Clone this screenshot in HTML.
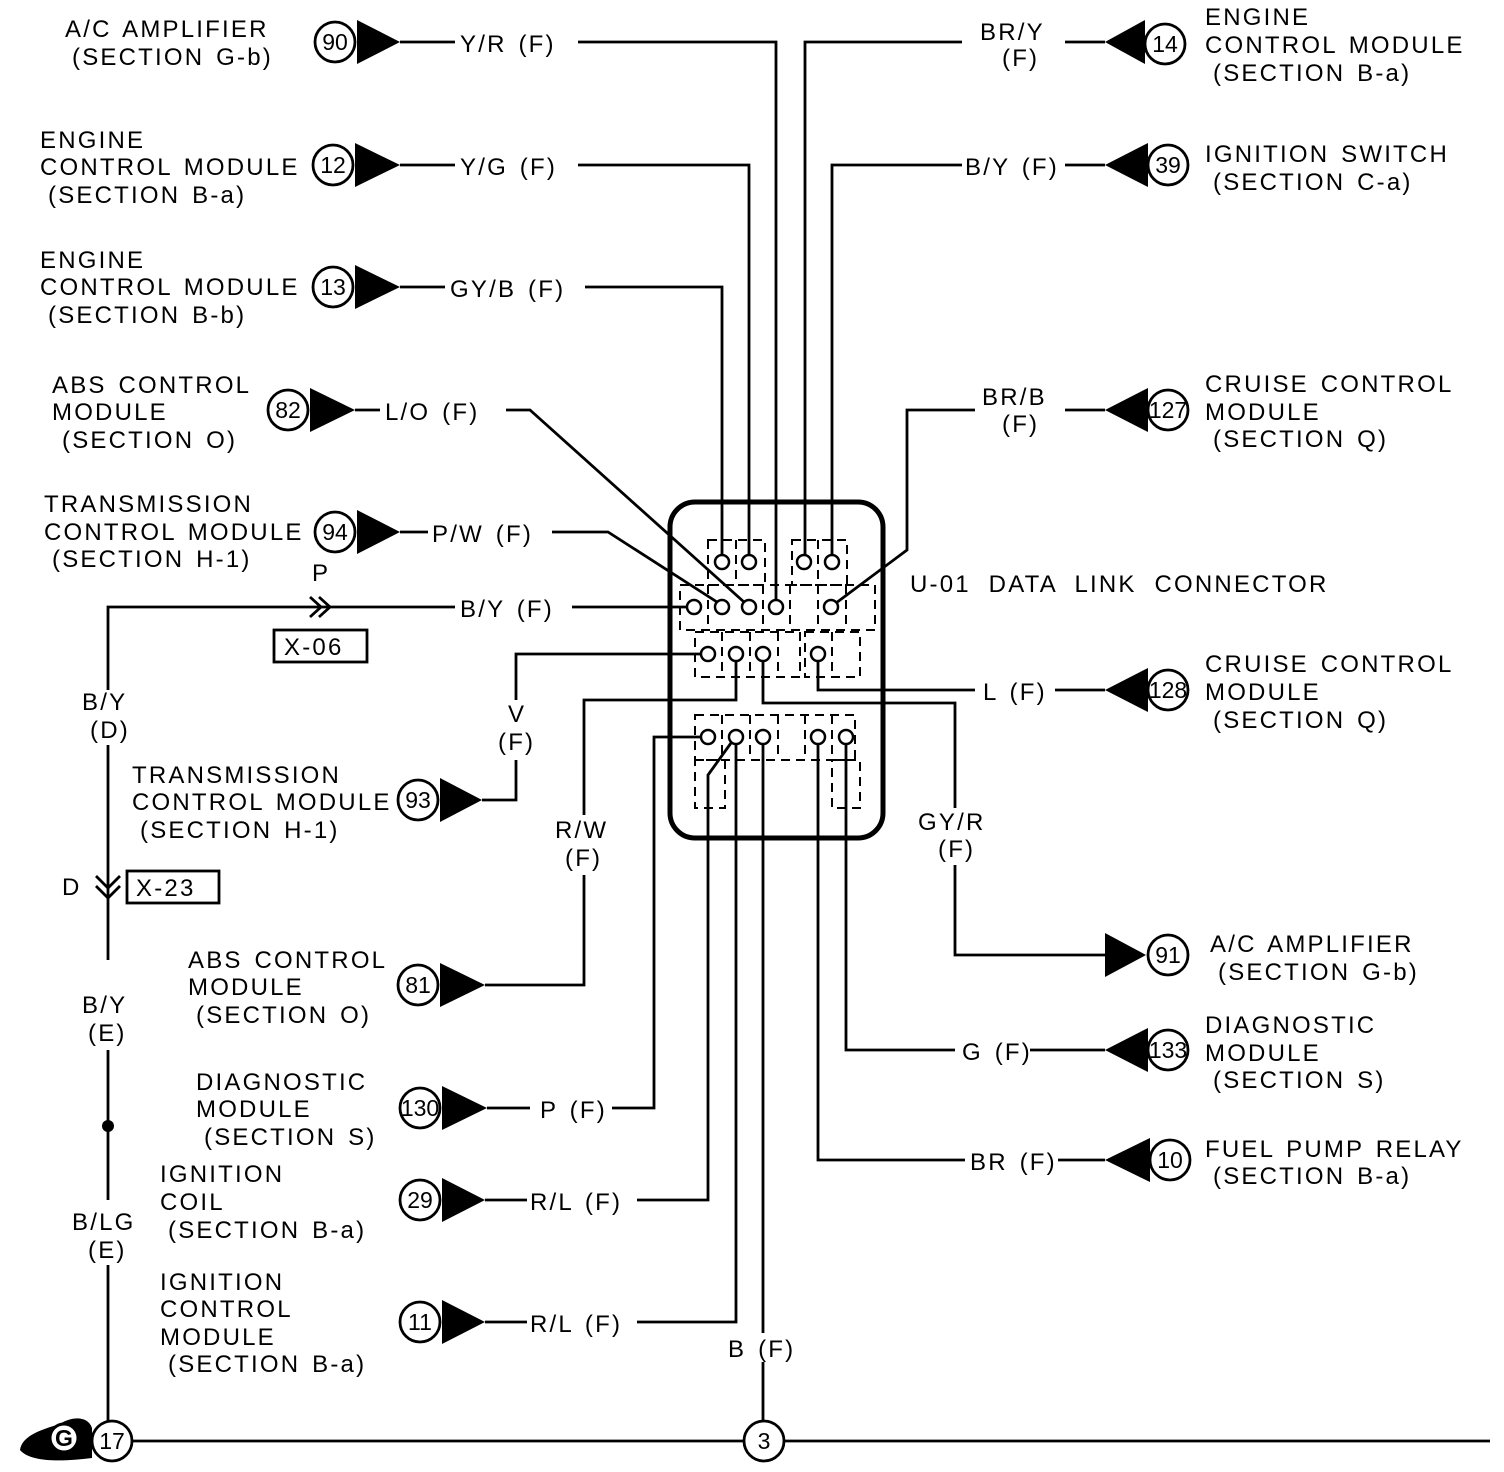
<!DOCTYPE html>
<html><head><meta charset="utf-8"><style>
html,body{margin:0;padding:0;background:#fff}
svg{display:block}
text{font-family:"Liberation Sans",sans-serif;font-size:24px;letter-spacing:2.2px;word-spacing:3px;fill:#000}
.c{font-size:23px;letter-spacing:0;word-spacing:0;text-anchor:middle}
</style></head><body>
<svg width="1504" height="1472" viewBox="0 0 1504 1472" xmlns="http://www.w3.org/2000/svg">
<g fill="none" stroke="#000" stroke-width="2.8">
<rect x="670" y="502" width="213" height="336" rx="25" stroke-width="5"/>
<g stroke-dasharray="9,6" stroke-width="2">
<rect x="708" y="540" width="57" height="45"/><rect x="792" y="540" width="55" height="45"/>
<line x1="736" y1="540" x2="736" y2="585"/><line x1="818" y1="540" x2="818" y2="585"/>
<rect x="680" y="585" width="195" height="45"/>
<line x1="708" y1="585" x2="708" y2="630"/><line x1="763" y1="585" x2="763" y2="630"/><line x1="790" y1="585" x2="790" y2="630"/><line x1="818" y1="585" x2="818" y2="630"/><line x1="846" y1="585" x2="846" y2="630"/>
<rect x="695" y="632" width="105" height="45"/><rect x="805" y="632" width="55" height="45"/>
<line x1="722" y1="632" x2="722" y2="677"/><line x1="750" y1="632" x2="750" y2="677"/><line x1="778" y1="632" x2="778" y2="677"/><line x1="832" y1="632" x2="832" y2="677"/>
<rect x="695" y="715" width="160" height="45"/><rect x="695" y="760" width="30" height="48"/><rect x="832" y="760" width="28" height="48"/>
<line x1="722" y1="715" x2="722" y2="760"/><line x1="750" y1="715" x2="750" y2="760"/><line x1="778" y1="715" x2="778" y2="760"/><line x1="805" y1="715" x2="805" y2="760"/><line x1="832" y1="715" x2="832" y2="760"/>
</g>
<g stroke-width="2.5" fill="#fff">
<circle cx="722" cy="562" r="7"/><circle cx="749" cy="562" r="7"/><circle cx="804" cy="562" r="7"/><circle cx="832" cy="562" r="7"/>
<circle cx="694" cy="607" r="7"/><circle cx="722" cy="607" r="7"/><circle cx="749" cy="607" r="7"/><circle cx="776" cy="607" r="7"/><circle cx="831" cy="607" r="7"/>
<circle cx="708" cy="654" r="7"/><circle cx="736" cy="654" r="7"/><circle cx="763" cy="654" r="7"/><circle cx="818" cy="654" r="7"/>
<circle cx="708" cy="737" r="7"/><circle cx="736" cy="737" r="7"/><circle cx="763" cy="737" r="7"/><circle cx="818" cy="737" r="7"/><circle cx="846" cy="737" r="7"/>
</g>
<polyline points="400,42 455,42"/><polyline points="578,42 776,42 776,600"/>
<polyline points="400,165 455,165"/><polyline points="578,165 749,165 749,555"/>
<polyline points="400,287 445,287"/><polyline points="585,287 722,287 722,555"/>
<polyline points="355,410 380,410"/><polyline points="506,410 530,410 744,602"/>
<polyline points="400,532 428,532"/><polyline points="552,532 608,532 717,602"/>
<polyline points="572,607 687,607"/>
<polyline points="1065,42 1105,42"/><polyline points="962,42 805,42 805,555"/>
<polyline points="1065,165 1105,165"/><polyline points="962,165 832,165 832,555"/>
<polyline points="1065,410 1105,410"/><polyline points="975,410 907,410 907,550 836,603"/>
<polyline points="701,654 516,654 516,700"/><polyline points="516,760 516,800 482,800"/>
<polyline points="736,661 736,700 584,700 584,815"/><polyline points="584,875 584,985 485,985"/>
<polyline points="763,661 763,703 955,703 955,808"/><polyline points="955,865 955,955 1105,955"/>
<polyline points="818,661 818,690 975,690"/><polyline points="1055,690 1105,690"/>
<polyline points="701,737 654,737 654,1108 612,1108"/><polyline points="487,1108 530,1108"/>
<polyline points="731,743 708,775 708,1200 637,1200"/><polyline points="485,1200 527,1200"/>
<polyline points="736,744 736,1322 637,1322"/><polyline points="485,1322 527,1322"/>
<polyline points="763,744 763,1333"/><polyline points="763,1362 763,1421"/>
<polyline points="818,744 818,1160 965,1160"/><polyline points="1058,1160 1105,1160"/>
<polyline points="846,744 846,1050 955,1050"/><polyline points="1030,1050 1105,1050"/>
<polyline points="455,607 108,607 108,690"/>
<line x1="108" y1="745" x2="108" y2="960"/>
<line x1="108" y1="1050" x2="108" y2="1200"/>
<line x1="108" y1="1265" x2="108" y2="1421"/>
<path d="M310,597 L321,607 L310,617 M319,597 L330,607 L319,617"/>
<path d="M96,876 L108,888 L120,876 M96,886 L108,898 L120,886"/>
<rect x="274" y="630" width="93" height="32"/>
<rect x="127" y="871" width="92" height="32"/>
<line x1="132" y1="1441" x2="744" y2="1441"/><line x1="784" y1="1441" x2="1490" y2="1441"/>
<circle cx="335" cy="42" r="20"/><circle cx="333" cy="165" r="20"/><circle cx="333" cy="287" r="20"/><circle cx="288" cy="410" r="20"/><circle cx="335" cy="532" r="20"/>
<circle cx="418" cy="800" r="20"/><circle cx="418" cy="985" r="20"/><circle cx="420" cy="1108" r="20"/><circle cx="420" cy="1200" r="20"/><circle cx="420" cy="1322" r="20"/>
<circle cx="1165" cy="44" r="20"/><circle cx="1168" cy="165" r="20"/><circle cx="1168" cy="410" r="20"/><circle cx="1168" cy="690" r="20"/><circle cx="1168" cy="955" r="20"/><circle cx="1168" cy="1050" r="20"/><circle cx="1170" cy="1160" r="20"/>
<circle cx="112" cy="1441" r="20"/><circle cx="764" cy="1441" r="20"/>
</g>
<circle cx="108" cy="1126" r="6"/>
<g fill="#000">
<polygon points="357,20 400,42 357,64"/><polygon points="355,143 400,165 355,187"/><polygon points="355,265 400,287 355,309"/><polygon points="310,388 355,410 310,432"/><polygon points="357,510 400,532 357,554"/>
<polygon points="440,778 482,800 440,822"/><polygon points="440,963 485,985 440,1007"/><polygon points="442,1086 487,1108 442,1130"/><polygon points="442,1178 485,1200 442,1222"/><polygon points="442,1300 485,1322 442,1344"/>
<polygon points="1145,20 1105,42 1145,64"/><polygon points="1148,143 1105,165 1148,187"/><polygon points="1148,388 1105,410 1148,432"/><polygon points="1148,668 1105,690 1148,712"/><polygon points="1105,933 1146,955 1105,977"/><polygon points="1148,1028 1105,1050 1148,1072"/><polygon points="1150,1138 1105,1160 1150,1182"/>
<path d="M20,1450 C22,1436 40,1430 60,1424 C72,1416 88,1416 92,1428 L92,1458 C60,1462 30,1462 20,1450Z"/>
</g>
<circle cx="64" cy="1438" r="14" fill="#fff" stroke="#000" stroke-width="3"/>
<text class="c" x="64" y="1446" style="font-weight:bold">G</text>
<text class="c" x="335" y="50">90</text><text class="c" x="333" y="173">12</text><text class="c" x="333" y="295">13</text><text class="c" x="288" y="418">82</text><text class="c" x="335" y="540">94</text>
<text class="c" x="418" y="808">93</text><text class="c" x="418" y="993">81</text><text class="c" x="420" y="1116">130</text><text class="c" x="420" y="1208">29</text><text class="c" x="420" y="1330">11</text>
<text class="c" x="1165" y="52">14</text><text class="c" x="1168" y="173">39</text><text class="c" x="1168" y="418">127</text><text class="c" x="1168" y="698">128</text><text class="c" x="1168" y="963">91</text><text class="c" x="1168" y="1058">133</text><text class="c" x="1170" y="1168">10</text>
<text class="c" x="112" y="1449">17</text><text class="c" x="764" y="1449">3</text>
<text x="65" y="37">A/C AMPLIFIER</text><text x="72" y="65">(SECTION G-b)</text>
<text x="40" y="148">ENGINE</text><text x="40" y="175">CONTROL MODULE</text><text x="48" y="203">(SECTION B-a)</text>
<text x="40" y="268">ENGINE</text><text x="40" y="295">CONTROL MODULE</text><text x="48" y="323">(SECTION B-b)</text>
<text x="52" y="393">ABS CONTROL</text><text x="52" y="420">MODULE</text><text x="62" y="448">(SECTION O)</text>
<text x="44" y="512">TRANSMISSION</text><text x="44" y="540">CONTROL MODULE</text><text x="52" y="567">(SECTION H-1)</text>
<text x="460" y="52">Y/R (F)</text><text x="460" y="175">Y/G (F)</text><text x="450" y="297">GY/B (F)</text><text x="385" y="420">L/O (F)</text><text x="432" y="542">P/W (F)</text><text x="460" y="617">B/Y (F)</text>
<text x="312" y="581">P</text><text x="284" y="655">X-06</text>
<text x="82" y="710">B/Y</text><text x="90" y="738">(D)</text>
<text x="132" y="783">TRANSMISSION</text><text x="132" y="810">CONTROL MODULE</text><text x="140" y="838">(SECTION H-1)</text>
<text x="508" y="722">V</text><text x="498" y="750">(F)</text>
<text x="62" y="895">D</text><text x="136" y="896">X-23</text>
<text x="82" y="1013">B/Y</text><text x="88" y="1041">(E)</text>
<text x="72" y="1230">B/LG</text><text x="88" y="1258">(E)</text>
<text x="188" y="968">ABS CONTROL</text><text x="188" y="995">MODULE</text><text x="196" y="1023">(SECTION O)</text>
<text x="555" y="838">R/W</text><text x="565" y="866">(F)</text>
<text x="196" y="1090">DIAGNOSTIC</text><text x="196" y="1117">MODULE</text><text x="204" y="1145">(SECTION S)</text>
<text x="540" y="1118">P (F)</text>
<text x="160" y="1182">IGNITION</text><text x="160" y="1210">COIL</text><text x="168" y="1238">(SECTION B-a)</text>
<text x="530" y="1210">R/L (F)</text>
<text x="160" y="1290">IGNITION</text><text x="160" y="1317">CONTROL</text><text x="160" y="1345">MODULE</text><text x="168" y="1372">(SECTION B-a)</text>
<text x="530" y="1332">R/L (F)</text>
<text x="728" y="1357">B (F)</text>
<text x="980" y="40">BR/Y</text><text x="1002" y="66">(F)</text>
<text x="1205" y="25">ENGINE</text><text x="1205" y="53">CONTROL MODULE</text><text x="1213" y="81">(SECTION B-a)</text>
<text x="965" y="175">B/Y (F)</text>
<text x="1205" y="162">IGNITION SWITCH</text><text x="1213" y="190">(SECTION C-a)</text>
<text x="982" y="405">BR/B</text><text x="1002" y="432">(F)</text>
<text x="1205" y="392">CRUISE CONTROL</text><text x="1205" y="420">MODULE</text><text x="1213" y="447">(SECTION Q)</text>
<text x="910" y="592" style="word-spacing:9px">U-01 DATA LINK CONNECTOR</text>
<text x="983" y="700">L (F)</text>
<text x="1205" y="672">CRUISE CONTROL</text><text x="1205" y="700">MODULE</text><text x="1213" y="728">(SECTION Q)</text>
<text x="918" y="830">GY/R</text><text x="938" y="857">(F)</text>
<text x="1210" y="952">A/C AMPLIFIER</text><text x="1218" y="980">(SECTION G-b)</text>
<text x="962" y="1060">G (F)</text>
<text x="1205" y="1033">DIAGNOSTIC</text><text x="1205" y="1061">MODULE</text><text x="1213" y="1088">(SECTION S)</text>
<text x="970" y="1170">BR (F)</text>
<text x="1205" y="1157">FUEL PUMP RELAY</text><text x="1213" y="1184">(SECTION B-a)</text>
</svg>
</body></html>
